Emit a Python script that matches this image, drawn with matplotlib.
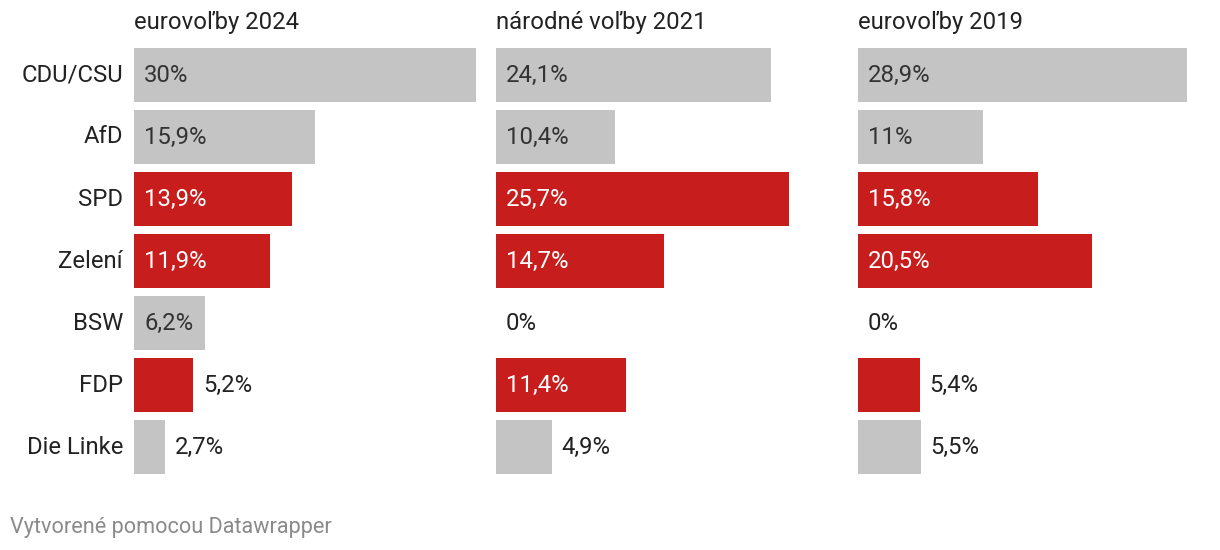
import matplotlib.pyplot as plt

plt.rcParams['font.family'] = ['Roboto', 'DejaVu Sans']

# Data
parties = ['CDU/CSU', 'AfD', 'SPD', 'Zelení', 'BSW', 'FDP', 'Die Linke']
titles = ['eurovoľby 2024', 'národné voľby 2021', 'eurovoľby 2019']
euro_2024 = [30, 15.9, 13.9, 11.9, 6.2, 5.2, 2.7]
national_2021 = [24.1, 10.4, 25.7, 14.7, 0, 11.4, 4.9]
euro_2019 = [28.9, 11, 15.8, 20.5, 0, 5.4, 5.5]
government = [False, False, True, True, False, True, False]  # red = coalition parties

red = '#c71e1d'
gray = '#c4c4c4'
fs = 17.2

W, H = 1220, 550
fig = plt.figure(figsize=(W / 100, H / 100), dpi=100)

def fmt(v):
    return (f'{v:g}').replace('.', ',') + '%'

px_per_pct = 342 / 30
for i, (title, values) in enumerate(zip(titles, [euro_2024, national_2021, euro_2019])):
    left = 134 + 362 * i
    ax = fig.add_axes([left / W, 1 - 478 / H, 342 / W, 434 / H])
    colors = [red if g else gray for g in government]
    ax.barh(range(len(parties)), values, height=54 / 62, color=colors)
    ax.set_xlim(0, 30)
    ax.set_ylim(6.5, -0.5)
    ax.axis('off')

    for k, v in enumerate(values):
        label = fmt(v)
        # inside the bar when it fits, otherwise just after it
        est_width = len(label) * 14
        if v * px_per_pct > est_width + 10:
            ax.annotate(label, (0, k), xytext=(10, 0), textcoords='offset pixels',
                        va='center', ha='left', fontsize=fs,
                        color='white' if government[k] else '#333333')
        else:
            ax.annotate(label, (v, k), xytext=(10, 0), textcoords='offset pixels',
                        va='center', ha='left', fontsize=fs, color='#222222')

    fig.text(left / W, 1 - 22 / H, title, ha='left', va='center', fontsize=fs, color='#222222')

# Category labels
for k, p in enumerate(parties):
    fig.text(123 / W, 1 - (75 + 62 * k) / H, p, ha='right', va='center', fontsize=fs, color='#222222')

fig.text(10 / W, 1 - 527 / H, 'Vytvorené pomocou Datawrapper', ha='left', va='center',
         fontsize=15.6, color='#8a8a8a')

fig.savefig('out.png', dpi=100, facecolor='white')
